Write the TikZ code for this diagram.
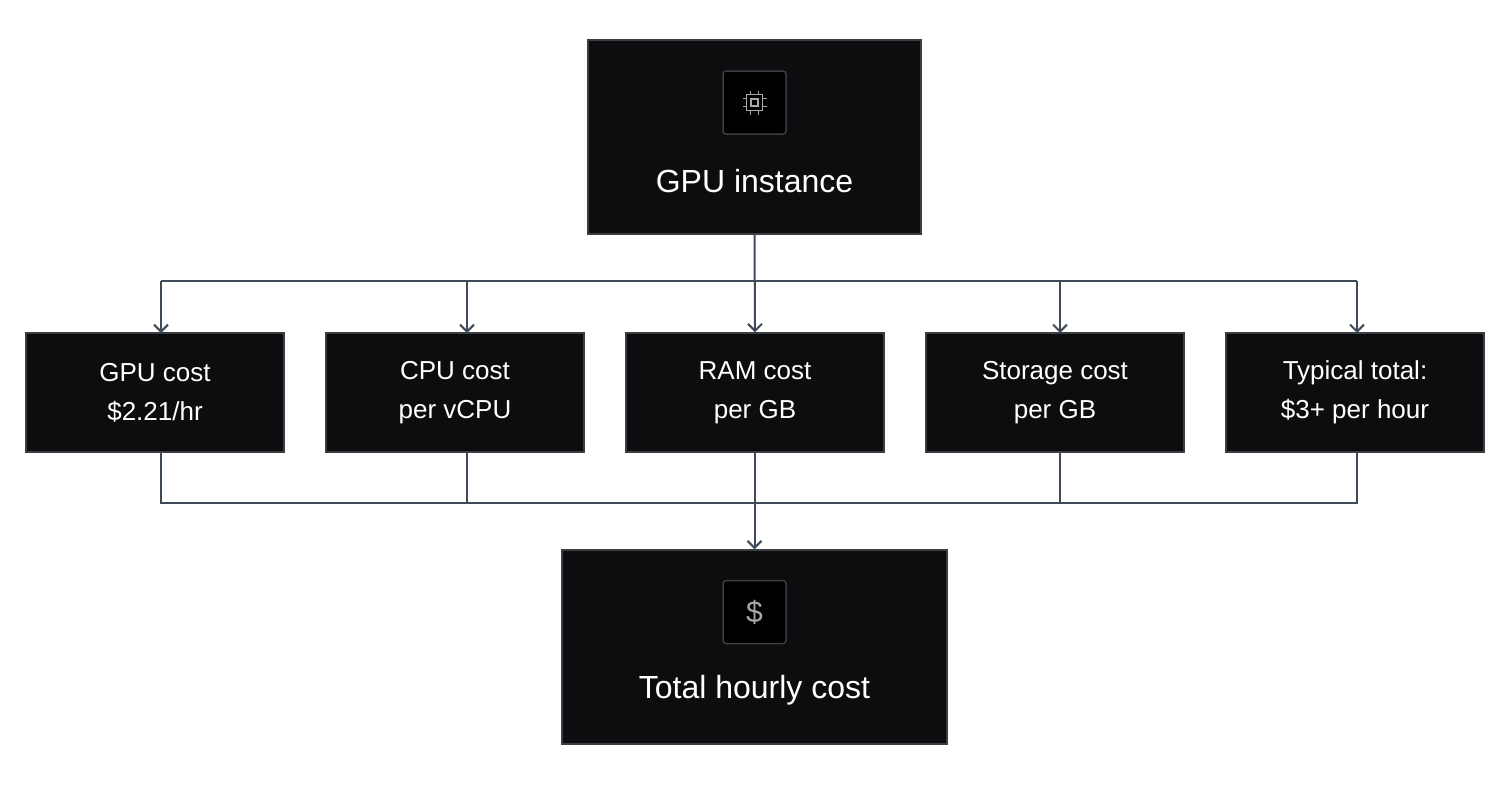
\documentclass[tikz,border=0pt]{standalone}
\usepackage{fontspec}
\setmainfont{Liberation Sans}
\usetikzlibrary{arrows.meta}
\definecolor{boxfill}{HTML}{0D0D0F}
\definecolor{boxline}{HTML}{3A3D42}
\definecolor{wire}{HTML}{3F4B58}
\definecolor{icon}{HTML}{A8A8A8}
\begin{document}
\begin{tikzpicture}[x=1pt,y=-1pt,
  box/.style={draw=boxline,line width=1.5pt,fill=boxfill,text=white,align=center,inner sep=0pt},
  small/.style={box,minimum width=258pt,minimum height=119pt,font=\fontsize{26}{39}\selectfont},
  iconbox/.style={draw=boxline,line width=1.5pt,fill=black,rounded corners=3pt,minimum size=63pt,inner sep=0pt},
  wire/.style={draw=wire,line width=2pt},
  arr/.style={wire,-{Straight Barb[length=7pt,width=14pt]}}]
\useasboundingbox (0,0) rectangle (1510,785);
\node[box,minimum width=333pt,minimum height=194pt] (top) at (754.5,137) {};
\node[box,minimum width=385pt,minimum height=194pt] (bot) at (754.5,647) {};
\node[iconbox] (ic1) at (754.5,102.5) {};
\node[iconbox] (ic2) at (754.5,612) {};
\node[text=white,font=\fontsize{32}{38}\selectfont] (tt) at (754.5,181) {GPU instance};
\node[text=white,font=\fontsize{32}{38}\selectfont] (bt) at (754.5,690) {Total hourly cost};
\node[text=icon,font=\fontsize{30}{30}\selectfont] (dl) at (754.5,612) {\$};
% chip icon
\begin{scope}[shift={(754.5,102.5)},icon,line width=1.3pt]
\draw (-8,-8) rectangle (8,8);
\draw (-3.5,-3.5) rectangle (3.5,3.5);
\foreach \p in {-4,4}{
 \draw (\p,-8) -- (\p,-12); \draw (\p,8) -- (\p,12);
 \draw (-8,\p) -- (-12,\p); \draw (8,\p) -- (12,\p);}
\end{scope}
\node[small] (a) at (155,392.5) {GPU cost\\\$2.21/hr};
\node[small] (b) at (455,392.5) {CPU cost\\per vCPU};
\node[small] (c) at (755,392.5) {RAM cost\\per GB};
\node[small] (d) at (1055,392.5) {Storage cost\\per GB};
\node[small] (e) at (1355,392.5) {Typical total:\\\$3+ per hour};
\coordinate (sp) at (754.5,281);
\coordinate (jn) at (754.5,503);
\draw[arr] (top.south) -- (c.north);
\draw[wire] (161,281) -- (1357,281);
\draw[arr] (161,281) -- (161,333);
\draw[arr] (467,281) -- (467,333);
\draw[arr] (1060,281) -- (1060,333);
\draw[arr] (1357,281) -- (1357,333);
\draw[wire] (161,452) -- (161,503) -- (1357,503) -- (1357,452);
\draw[wire] (467,452) -- (467,503);
\draw[wire] (754.5,452) -- (jn);
\draw[wire] (1060,452) -- (1060,503);
\draw[arr] (jn) -- (bot.north);
\end{tikzpicture}
\end{document}
